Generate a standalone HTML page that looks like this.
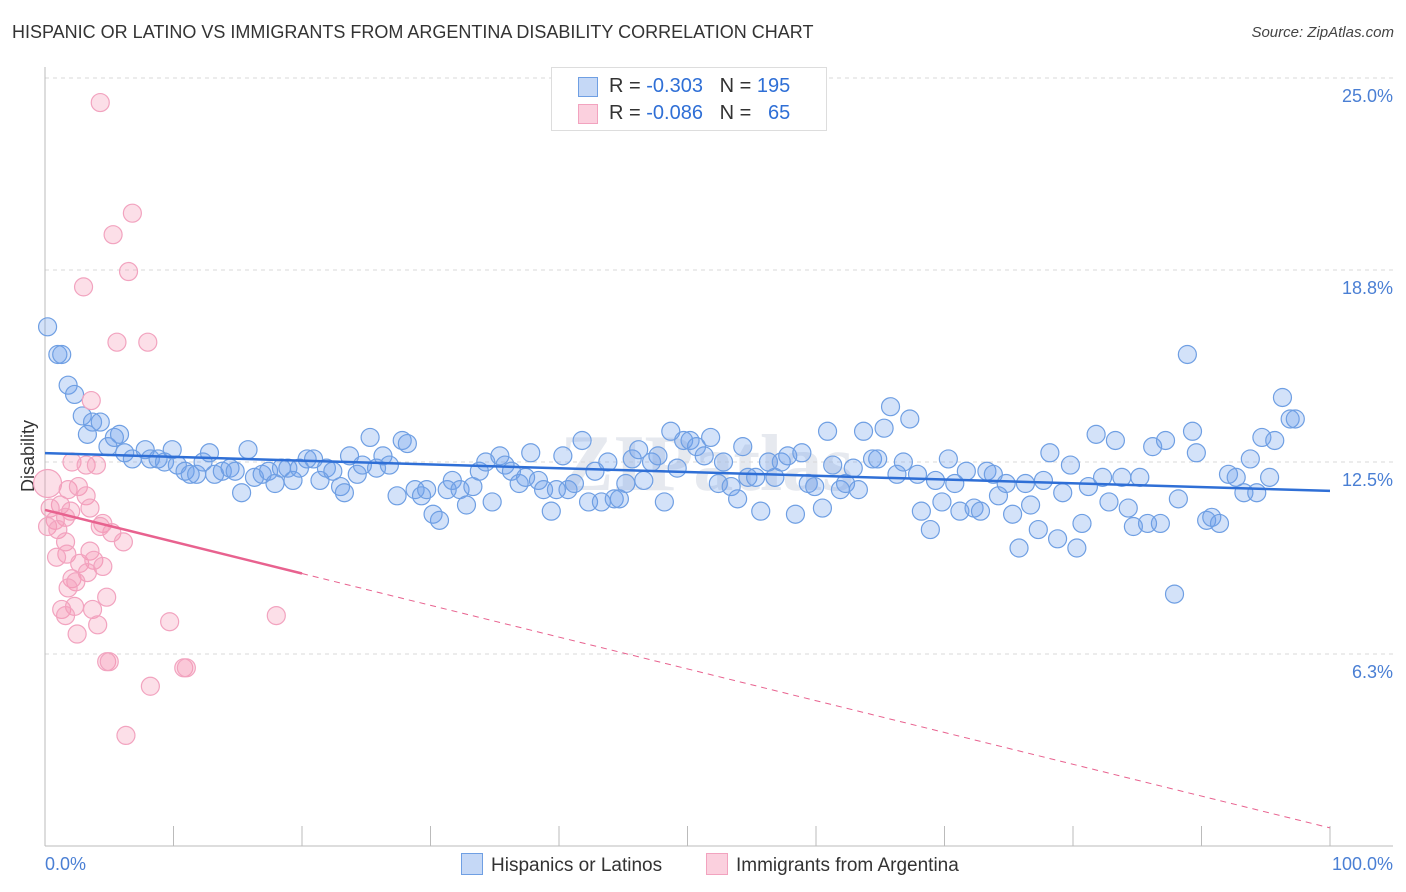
<!DOCTYPE html>
<html><head><meta charset="utf-8"><style>
body{margin:0;background:#fff;font-family:"Liberation Sans",sans-serif;}
#wrap{position:relative;width:1406px;height:892px;overflow:hidden;}
.t{position:absolute;white-space:nowrap;}
</style></head><body>
<div id="wrap">
<div class="t" style="left:12px;top:22px;font-size:18px;color:#333;">HISPANIC OR LATINO VS IMMIGRANTS FROM ARGENTINA DISABILITY CORRELATION CHART</div>
<div class="t" style="right:12px;top:24px;font-size:15px;color:#444;font-style:italic;">Source: ZipAtlas.com</div>
<svg id="plot" width="1406" height="892" style="position:absolute;left:0;top:0"></svg>
</div>
<script>
const xTicks=[0,10,20,30,40,50,60,70,80,90,100];
const yTicks=[6.25,12.5,18.75,25];
const yTickLabels=["6.3%","12.5%","18.8%","25.0%"];
const blueX=[0.2,1,1.3,1.8,2.3,2.9,3.3,3.7,4.3,4.9,5.4,5.8,6.2,6.8,7.8,8.2,8.8,9.3,9.9,10.3,10.9,11.3,11.8,12.3,12.8,13.2,13.8,14.4,14.8,15.3,15.8,16.3,16.9,17.4,17.9,18.4,18.9,19.3,19.8,20.4,20.9,21.4,21.9,22.4,23.0,23.3,23.7,24.3,24.7,25.3,25.8,26.3,26.8,27.4,27.8,28.2,28.8,29.3,29.7,30.2,30.7,31.3,31.7,32.3,32.8,33.3,33.8,34.3,34.8,35.4,35.8,36.3,36.9,37.4,37.8,38.4,38.8,39.4,39.8,40.3,40.7,41.2,41.8,42.3,42.8,43.3,43.8,44.3,44.7,45.2,45.7,46.2,46.6,47.2,47.7,48.2,48.7,49.2,49.7,50.2,50.7,51.3,51.8,52.4,52.8,53.4,53.9,54.3,54.7,55.3,55.7,56.3,56.8,57.3,57.8,58.4,58.9,59.4,59.9,60.5,60.9,61.3,61.9,62.3,62.9,63.3,63.7,64.4,64.8,65.3,65.8,66.3,66.8,67.3,67.9,68.2,68.9,69.3,69.8,70.3,70.8,71.2,71.7,72.3,72.8,73.3,73.8,74.2,74.8,75.3,75.8,76.3,76.7,77.3,77.7,78.2,78.8,79.2,79.8,80.3,80.7,81.2,81.8,82.3,82.8,83.3,83.8,84.3,84.7,85.2,85.8,86.2,86.8,87.2,87.9,88.2,88.9,89.3,89.6,90.4,90.8,91.4,92.1,92.7,93.3,93.8,94.3,94.7,95.3,95.7,96.3,96.9,97.3];
const blueY=[16.9,16.0,16.0,15.0,14.7,14.0,13.4,13.8,13.8,13.0,13.3,13.4,12.8,12.6,12.9,12.6,12.6,12.5,12.9,12.4,12.2,12.1,12.1,12.5,12.8,12.1,12.2,12.3,12.2,11.5,12.9,12.0,12.1,12.2,11.8,12.3,12.3,11.9,12.3,12.6,12.6,11.9,12.3,12.2,11.7,11.5,12.7,12.1,12.4,13.3,12.3,12.7,12.4,11.4,13.2,13.1,11.6,11.4,11.6,10.8,10.6,11.6,11.9,11.6,11.1,11.7,12.2,12.5,11.2,12.7,12.4,12.2,11.8,12.0,12.8,11.9,11.6,10.9,11.6,12.7,11.6,11.8,13.2,11.2,12.2,11.2,12.5,11.3,11.3,11.8,12.6,12.9,11.9,12.5,12.7,11.2,13.5,12.3,13.2,13.2,13.0,12.7,13.3,11.8,12.5,11.7,11.3,13.0,12.0,12.0,10.9,12.5,12.0,12.5,12.7,10.8,12.8,11.8,11.7,11.0,13.5,12.4,11.6,11.8,12.3,11.6,13.5,12.6,12.6,13.6,14.3,12.1,12.5,13.9,12.1,10.9,10.3,11.9,11.2,12.6,11.8,10.9,12.2,11.0,10.9,12.2,12.1,11.4,11.8,10.8,9.7,11.8,11.1,10.3,11.9,12.8,10.0,11.5,12.4,9.7,10.5,11.7,13.4,12.0,11.2,13.2,12.0,11.0,10.4,12.0,10.5,13.0,10.5,13.2,8.2,11.3,16.0,13.5,12.8,10.6,10.7,10.5,12.1,12.0,11.5,12.6,11.5,13.3,12.0,13.2,14.6,13.9,13.9];
const pinkX=[4.3,6.8,5.3,6.5,3.0,5.6,8.0,3.6,2.1,3.2,4.0,0.2,1.8,2.6,3.2,1.2,0.4,2.0,3.5,0.8,1.6,0.2,1.0,4.5,5.2,4.3,1.6,6.1,1.7,0.9,3.5,2.7,3.8,4.5,3.3,2.1,2.4,1.8,4.8,1.3,2.3,3.7,1.6,9.7,18.0,4.1,2.5,4.8,5.0,10.8,11.0,8.2,6.3];
const pinkY=[24.2,20.6,19.9,18.7,18.2,16.4,16.4,14.5,12.5,12.4,12.4,11.8,11.6,11.7,11.4,11.1,11.0,10.9,11.0,10.6,10.7,10.4,10.3,10.5,10.2,10.4,9.9,9.9,9.5,9.4,9.6,9.2,9.3,9.1,8.9,8.7,8.6,8.4,8.1,7.7,7.8,7.7,7.5,7.3,7.5,7.2,6.9,6.0,6.0,5.8,5.8,5.2,3.6];
const blueTrend=[12.79,11.56];
const pinkTrend=[10.94,0.59];
const pinkSolidEnd=20;

const X0=45,X1=1330,Y0=846,YS=30.72;
const sx=v=>X0+(X1-X0)*v/100;
const sy=v=>Y0-v*YS;
const svg=document.getElementById('plot');
const NS='http://www.w3.org/2000/svg';
function mk(tag,at){const e=document.createElementNS(NS,tag);for(const k in at)e.setAttribute(k,at[k]);svg.appendChild(e);return e;}
// watermark
let wm=mk('text',{x:560,y:490,'font-size':80,fill:'#e6e9ef','font-family':'Liberation Serif, serif','font-weight':'bold'});
wm.textContent='ZIPatlas';


yTicks.forEach((v,i)=>{
  let g=mk('line',{x1:X0,x2:1393,y1:sy(v),y2:sy(v),stroke:'#d8d8d8','stroke-dasharray':'4,4'});
  
  
  let t=mk('text',{x:1393,y:sy(v)+24,'text-anchor':'end','font-size':18,fill:'#4a7fd4','font-family':'Liberation Sans, sans-serif'});
  t.textContent=yTickLabels[i];
  
  
});
let ya=mk('line',{x1:X0,x2:X0,y1:67,y2:Y0,stroke:'#bbb'});


let xa=mk('line',{x1:X0,x2:1393,y1:Y0,y2:Y0,stroke:'#bbb'});


xTicks.forEach(v=>{
  let t=mk('line',{x1:sx(v),x2:sx(v),y1:Y0,y2:Y0-20,stroke:'#bbb'});
  
  
});
[["0.0%",X0,'start'],["100.0%",1393,'end']].forEach(a=>{
  let t=mk('text',{x:a[1],y:870,'text-anchor':a[2],'font-size':18,fill:'#4a7fd4','font-family':'Liberation Sans, sans-serif'});
  t.textContent=a[0];
  
  
});
let yt=mk('text',{x:0,y:0,transform:'translate(34,456) rotate(-90)','text-anchor':'middle','font-size':18,fill:'#333','font-family':'Liberation Sans, sans-serif'});
yt.textContent='Disability';


blueX.forEach((x,i)=>{
  let c=mk('circle',{cx:sx(x),cy:sy(blueY[i]),r:9,fill:'rgba(110,160,235,0.3)',stroke:'#6f9fe3','stroke-width':1.2});
  
  
});
pinkX.forEach((x,i)=>{
  let c=mk('circle',{cx:sx(x),cy:sy(pinkY[i]),r:(i==11?14:9),fill:'rgba(245,150,180,0.3)',stroke:'#f2a3bf','stroke-width':1.2});
  
  
});
let bl=mk('line',{x1:sx(0),y1:sy(blueTrend[0]),x2:sx(100),y2:sy(blueTrend[1]),stroke:'#2f6fd6','stroke-width':2.5});


const pAt=v=>pinkTrend[0]+(pinkTrend[1]-pinkTrend[0])*v/100;
let pl=mk('line',{x1:sx(0),y1:sy(pAt(0)),x2:sx(pinkSolidEnd),y2:sy(pAt(pinkSolidEnd)),stroke:'#e8628f','stroke-width':2.5});


let pd=mk('line',{x1:sx(pinkSolidEnd),y1:sy(pAt(pinkSolidEnd)),x2:sx(100),y2:sy(pAt(100)),stroke:'#e8628f','stroke-width':1,'stroke-dasharray':'6,5'});


</script>
<div class="t" style="left:551px;top:67px;width:274px;height:62px;border:1px solid #ddd;background:#fff;font-size:20px;color:#333;">
  <div style="position:absolute;left:26px;top:9px;width:18px;height:18px;background:#c5d8f6;border:1px solid #6f9fe3;"></div>
  <div style="position:absolute;left:57px;top:7px;">R = <span style="color:#2f6fd6">-0.303</span>&nbsp;&nbsp;&nbsp;N = <span style="color:#2f6fd6">195</span></div>
  <div style="position:absolute;left:26px;top:36px;width:18px;height:18px;background:#fbd0de;border:1px solid #f2a3bf;"></div>
  <div style="position:absolute;left:57px;top:34px;">R = <span style="color:#2f6fd6">-0.086</span>&nbsp;&nbsp;&nbsp;N = &nbsp;&nbsp;<span style="color:#2f6fd6">65</span></div>
</div>
<div class="t" style="left:461px;top:853px;font-size:19px;color:#333;">
  <span style="display:inline-block;width:20px;height:20px;background:#c5d8f6;border:1px solid #6f9fe3;vertical-align:-4px;margin-right:8px;"></span>Hispanics or Latinos</div>
<div class="t" style="left:706px;top:853px;font-size:19px;color:#333;">
  <span style="display:inline-block;width:20px;height:20px;background:#fbd0de;border:1px solid #f2a3bf;vertical-align:-4px;margin-right:8px;"></span>Immigrants from Argentina</div>
</body></html>
